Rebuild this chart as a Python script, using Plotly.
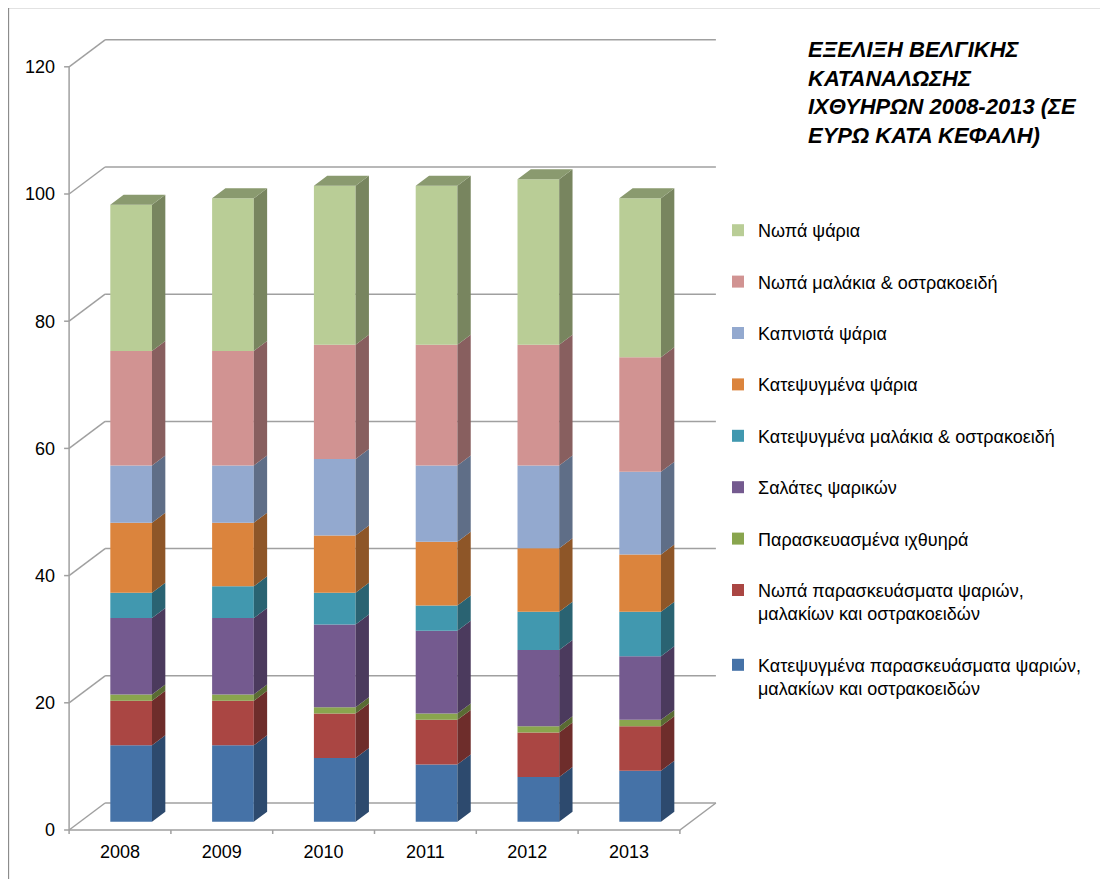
import numpy as np
import plotly.graph_objects as go

# Δεδομένα (ευρώ ανά κεφαλή), από κάτω προς τα πάνω
years = ["2008", "2009", "2010", "2011", "2012", "2013"]

frozen_prep = [12, 12, 10, 9, 7, 8]
fresh_prep = [7, 7, 7, 7, 7, 7]
prepared_fish = [1, 1, 1, 1, 1, 1]
fish_salads = [12, 12, 13, 13, 12, 10]
frozen_shellfish = [4, 5, 5, 4, 6, 7]
frozen_fish = [11, 10, 9, 10, 10, 9]
smoked_fish = [9, 9, 12, 12, 13, 13]
fresh_shellfish = [18, 18, 18, 19, 19, 18]
fresh_fish = [23, 24, 25, 25, 26, 25]

series_names = [
    "Κατεψυγμένα παρασκευάσματα ψαριών,<br>μαλακίων και οστρακοειδών",
    "Νωπά παρασκευάσματα ψαριών,<br>μαλακίων και οστρακοειδών",
    "Παρασκευασμένα ιχθυηρά",
    "Σαλάτες ψαρικών",
    "Κατεψυγμένα μαλάκια & οστρακοειδή",
    "Κατεψυγμένα ψάρια",
    "Καπνιστά ψάρια",
    "Νωπά μαλάκια & οστρακοειδή",
    "Νωπά ψάρια",
]
series_values = [frozen_prep, fresh_prep, prepared_fish, fish_salads,
                 frozen_shellfish, frozen_fish, smoked_fish,
                 fresh_shellfish, fresh_fish]

front_colors = ["#4572A7", "#AA4643", "#89A54E", "#745A8F", "#4198AF",
                "#DB843D", "#93A9CF", "#D19392", "#B9CD96"]
side_colors = ["#2D4A6E", "#6E2D2B", "#596B33", "#4B3A5D", "#2A6372",
               "#8E5628", "#5F6E87", "#885F5F", "#78855F"]
top_color = "#8A9A6F"

y_ticks = [0, 20, 40, 60, 80, 100, 120]

# η σελίδα έχει περιθώριο 8px γύρω από το γράφημα
OFF = 8
W, H = 1108 - OFF, 879 - OFF

# ψευδο-3Δ γεωμετρία (σε pixel)
PX_CAT = 101.8      # pixel ανά κατηγορία
PX_UNIT = 6.36      # pixel ανά μονάδα
WALL_DX, WALL_DY = 36, 27
BAR_W = 41.7
D0, D1 = 0.31, 0.68
GRID = "#a0a0a0"

# περιοχή σχεδίασης (συντεταγμένες σελίδας)
L, R, T, B = 58, 722, 34, 838
X0_PIX, Y0_PIX = 120, 830   # κέντρο 1ης κατηγορίας, μηδέν

x_range = [(L - X0_PIX) / PX_CAT, (R - X0_PIX) / PX_CAT]
y_range = [(Y0_PIX - B) / PX_UNIT, (Y0_PIX - T) / PX_UNIT]
pw, ph = R - L, B - T


def px(xp):
    return (xp - L) / pw


def py(yp):
    return (B - yp) / ph


wx = WALL_DX / PX_CAT
wy = WALL_DY / PX_UNIT
n = len(years)
xs = np.arange(n)
xc = xs + D0 * wx
shift_y = D0 * wy
half_w = BAR_W / PX_CAT / 2
ddx = (D1 - D0) * wx
ddy = (D1 - D0) * wy

fig = go.Figure()

# τοίχοι και δάπεδο
gx, gy = [], []
left, right = -0.5, n - 0.5
for v in y_ticks:
    gx += [left + wx, right + wx, None, left, left + wx, None,
           left - 5 / PX_CAT, left, None]
    gy += [v + wy, v + wy, None, v, v + wy, None, v, v, None]
gx += [left, left, None, left, right, right + wx, None]
gy += [0, y_ticks[-1], None, 0, 0, wy, None]
for k in range(n + 1):
    gx += [k - 0.5, k - 0.5, None]
    gy += [0, -4 / PX_UNIT, None]
fig.add_trace(go.Scatter(x=gx, y=gy, mode="lines",
                         line=dict(color=GRID, width=1.5),
                         showlegend=False, hoverinfo="skip", zorder=0))

bottom = np.zeros(n)
for i, (name, vals) in enumerate(zip(series_names, series_values)):
    vals = np.array(vals, dtype=float)
    b = bottom + shift_y
    t = bottom + vals + shift_y
    fig.add_trace(go.Bar(
        x=xc, y=vals, base=b, width=2 * half_w, name=name,
        legendgroup=name, legendrank=len(series_names) - i,
        marker=dict(color=front_colors[i], line=dict(width=0)),
        zorder=1,
    ))
    sx, sy = [], []
    for j in range(n):
        xr = xc[j] + half_w
        sx += [xr, xr + ddx, xr + ddx, xr, None]
        sy += [b[j], b[j] + ddy, t[j] + ddy, t[j], None]
    fig.add_trace(go.Scatter(x=sx, y=sy, mode="none", fill="toself",
                             fillcolor=side_colors[i], showlegend=False,
                             hoverinfo="skip", zorder=2))
    bottom = bottom + vals

# πάνω όψη
tx, ty = [], []
top = bottom + shift_y
for j in range(n):
    xl, xr = xc[j] - half_w, xc[j] + half_w
    tx += [xl, xl + ddx, xr + ddx, xr, None]
    ty += [top[j], top[j] + ddy, top[j] + ddy, top[j], None]
fig.add_trace(go.Scatter(x=tx, y=ty, mode="none", fill="toself",
                         fillcolor=top_color, showlegend=False,
                         hoverinfo="skip", zorder=2))

fig.update_layout(
    width=W, height=H,
    margin=dict(l=L - OFF, r=W - (R - OFF), t=T - OFF, b=H - (B - OFF),
                autoexpand=False),
    paper_bgcolor="white", plot_bgcolor="white",
    barmode="overlay",
    font=dict(family="Arial, Liberation Sans, sans-serif", size=18,
              color="#000000"),
    xaxis=dict(range=x_range, tickvals=list(range(n)), ticktext=years,
               showgrid=False, zeroline=False, showline=False, ticks="",
               ticklabelstandoff=1),
    yaxis=dict(range=y_range, tickvals=y_ticks, showgrid=False,
               zeroline=False, showline=False, ticks="",
               ticklabelstandoff=2),
    legend=dict(x=px(718), y=py(212), xanchor="left",
                yanchor="top", traceorder="grouped",
                tracegroupgap=25, valign="top",
                bgcolor="rgba(0,0,0,0)", font=dict(size=18)),
    annotations=[dict(
        text="<b><i>ΕΞΕΛΙΞΗ ΒΕΛΓΙΚΗΣ<br>ΚΑΤΑΝΑΛΩΣΗΣ<br>"
             "ΙΧΘΥΗΡΩΝ 2008-2013 (ΣΕ<br>ΕΥΡΩ ΚΑΤΑ ΚΕΦΑΛΗ)</i></b>",
        xref="paper", yref="paper", x=px(806), y=py(35),
        xanchor="left", yanchor="top", align="left", showarrow=False,
        font=dict(size=22),
    )],
    shapes=[dict(type="rect", xref="paper", yref="paper",
                 x0=px(8.5), x1=px(1130), y0=py(900), y1=py(7.5),
                 line=dict(color="#8c8c8c", width=1.3), layer="below")],
)

fig.write_html("out.html")
